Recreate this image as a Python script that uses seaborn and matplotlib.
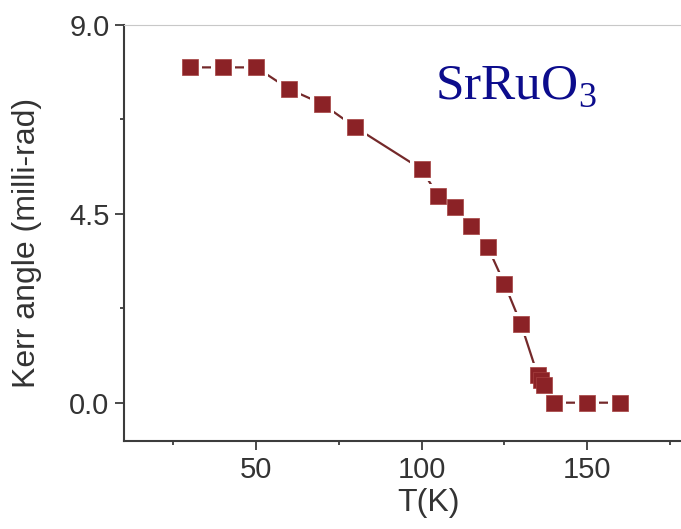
import numpy as np
import pandas as pd
import matplotlib
matplotlib.use('Agg')
import matplotlib.pyplot as plt
from matplotlib.ticker import MultipleLocator, FormatStrFormatter
import seaborn as sns

# ── data ────────────────────────────────────────────────────
temps = [30, 40, 50, 60, 70, 80, 100, 105, 110, 115, 120, 125, 130,
         135, 136, 137, 140, 150, 160]
kerr = [7.99, 7.99, 7.99, 7.47, 7.12, 6.56, 5.56, 4.92, 4.67, 4.21, 3.70,
        2.83, 1.87, 0.66, 0.54, 0.42, 0.0, 0.0, 0.0]
x_ticks = [50, 100, 150]
y_ticks = [0.0, 4.5, 9.0]

LINE_COLOR = '#74292a'
MARK_COLOR = '#8b2226'
TEXT_COLOR = '#333333'
SPINE_COLOR = '#3c3c3c'

sns.set_theme(style="ticks")
plt.rcParams['font.family'] = ['Liberation Sans', 'DejaVu Sans']
plt.rcParams['mathtext.fontset'] = 'custom'
plt.rcParams['mathtext.rm'] = 'Liberation Serif'

df = pd.DataFrame({'T': temps, 'kerr': kerr})

fig = plt.figure(figsize=(6.81, 5.29), dpi=100)
ax = fig.add_axes([124 / 681, 1 - 441 / 529, 557 / 681, 416 / 529])

# connecting line, white halo round each symbol, then the symbols
sns.lineplot(data=df, x='T', y='kerr', ax=ax, color=LINE_COLOR, lw=1.6,
             sort=False, estimator=None, zorder=1)
sns.scatterplot(data=df, x='T', y='kerr', ax=ax, marker='s', s=290,
                color='white', linewidth=0, zorder=2)
sns.scatterplot(data=df, x='T', y='kerr', ax=ax, marker='s', s=132,
                color=MARK_COLOR, edgecolor='#a5403f', linewidth=0.5,
                zorder=3)

ax.set_xlim(10.1, 178.3)
ax.set_ylim(-0.913, 9.0)

ax.set_xticks(x_ticks)
ax.set_yticks(y_ticks)
ax.xaxis.set_minor_locator(MultipleLocator(25))
ax.yaxis.set_minor_locator(MultipleLocator(2.25))
ax.yaxis.set_major_formatter(FormatStrFormatter('%.1f'))

ax.tick_params(axis='both', which='major', direction='out', length=6.5,
               width=1.3, color=SPINE_COLOR, labelsize=21,
               labelcolor=TEXT_COLOR, pad=4)
ax.tick_params(axis='both', which='minor', direction='out', length=3,
               width=1.3, color=SPINE_COLOR)

for side in ['left', 'bottom']:
    ax.spines[side].set_color(SPINE_COLOR)
    ax.spines[side].set_linewidth(1.5)
ax.spines['top'].set_color('#c8c8c8')
ax.spines['top'].set_linewidth(0.8)
ax.spines['right'].set_visible(False)

ax.set_xlabel('T(K)', fontsize=23, color=TEXT_COLOR)
ax.set_ylabel('Kerr angle (milli-rad)', fontsize=23, color=TEXT_COLOR)
ax.xaxis.set_label_coords(0.546, -0.112)
ax.yaxis.set_label_coords(-0.147, 0.476)

fig.text(435 / 681, 1 - 98.3 / 529, r'$\mathrm{SrRuO}_{\mathrm{3}}$',
         fontsize=37, color='#0c0c8c', ha='left', va='baseline')

fig.savefig('out.png', dpi=100)
